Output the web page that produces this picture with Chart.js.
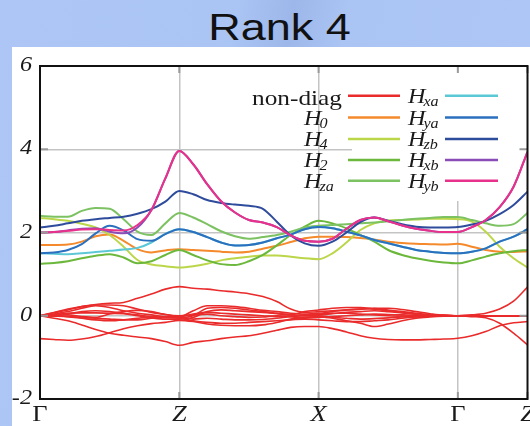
<!DOCTYPE html>
<html>
<head>
<meta charset="utf-8">
<title>Rank 4</title>
<script src="https://cdn.jsdelivr.net/npm/chart.js@4/dist/chart.umd.min.js"></script>
<style>
  html, body { margin: 0; padding: 0; }
  body {
    width: 530px; height: 426px; overflow: hidden; position: relative;
    background: linear-gradient(100deg, #adc6f6 0px, #aac4f4 235px, #9db7ea 290px, #aac4f4 345px, #adc6f6 530px);
  }
  #title {
    position: absolute; left: 0; top: 10px; width: 559px; text-align: center;
    font-family: "Liberation Sans", Arial, sans-serif; font-size: 36px; line-height: 36px;
    color: #111; transform: scaleX(1.25);
  }
  #panel { position: absolute; left: 12px; top: 47px; width: 518px; height: 379px; background: #fff; }
  canvas { display: block; }
</style>
</head>
<body>
<div id="title">Rank 4</div>
<div id="panel"><canvas id="bands" width="518" height="379"></canvas></div>
<script>
// positions along the k-path: Γ=0, Z=1, X=2, Γ=3, Z=3.5
const kPath = [0.0, 0.1, 0.2, 0.3, 0.4, 0.5, 0.6, 0.7, 0.8, 0.9, 1.0, 1.1, 1.2, 1.3, 1.4, 1.5, 1.6, 1.7,
               1.8, 1.9, 2.0, 2.1, 2.2, 2.3, 2.4, 2.5, 2.6, 2.7, 2.8, 2.9, 3.0, 3.1, 3.2, 3.3, 3.4, 3.5];
const kTickPos = [0, 1, 2, 3, 3.5];
const kTickLabels = ["Γ", "Z", "X", "Γ", "Z"];
const energyTicks = [6, 4, 2, 0, -2];

const H0  = [1.70, 1.70, 1.71, 1.78, 1.91, 1.95, 1.80, 1.60, 1.52, 1.57, 1.60, 1.58, 1.56, 1.54, 1.52, 1.54, 1.61, 1.68,
             1.77, 1.86, 1.90, 1.90, 1.89, 1.87, 1.83, 1.78, 1.75, 1.73, 1.72, 1.71, 1.73, 1.66, 1.58, 1.54, 1.53, 1.55];
const H4  = [2.35, 2.32, 2.28, 2.21, 2.12, 1.94, 1.66, 1.34, 1.23, 1.19, 1.16, 1.19, 1.25, 1.33, 1.38, 1.42, 1.45, 1.45,
             1.42, 1.38, 1.36, 1.50, 1.76, 2.06, 2.22, 2.29, 2.30, 2.31, 2.33, 2.33, 2.32, 2.26, 2.02, 1.66, 1.38, 1.16];
const H2  = [1.25, 1.27, 1.31, 1.38, 1.44, 1.48, 1.40, 1.26, 1.31, 1.46, 1.58, 1.46, 1.33, 1.24, 1.22, 1.31, 1.46, 1.69,
             1.94, 2.14, 2.28, 2.22, 2.10, 1.94, 1.78, 1.58, 1.46, 1.38, 1.32, 1.28, 1.26, 1.33, 1.42, 1.50, 1.55, 1.58];
const Hza = [2.40, 2.38, 2.38, 2.52, 2.59, 2.57, 2.32, 2.02, 1.94, 2.22, 2.47, 2.36, 2.20, 2.03, 1.91, 1.85, 1.89, 1.94,
             2.02, 2.12, 2.16, 2.18, 2.20, 2.22, 2.24, 2.27, 2.30, 2.33, 2.35, 2.37, 2.37, 2.30, 2.22, 2.16, 2.20, 2.47];
const Hxa = [1.50, 1.49, 1.48, 1.50, 1.53, 1.56, 1.59, 1.63, 1.76, 1.97, 2.08, 2.01, 1.89, 1.76, 1.69, 1.70, 1.76, 1.86,
             1.95, 2.08, 2.13, 2.10, 2.02, 1.93, 1.82, 1.74, 1.66, 1.58, 1.54, 1.51, 1.50, 1.54, 1.62, 1.78, 1.90, 2.08];
const Hya = [1.50, 1.52, 1.58, 1.72, 1.98, 2.16, 2.05, 1.84, 1.80, 1.96, 2.08, 2.01, 1.89, 1.76, 1.69, 1.70, 1.76, 1.86,
             1.95, 2.08, 2.13, 2.10, 2.02, 1.93, 1.82, 1.74, 1.66, 1.58, 1.54, 1.51, 1.50, 1.54, 1.62, 1.78, 1.90, 2.08];
const Hzb = [2.12, 2.16, 2.22, 2.28, 2.32, 2.35, 2.38, 2.45, 2.56, 2.74, 3.00, 2.92, 2.78, 2.71, 2.67, 2.64, 2.57, 2.26,
             1.93, 1.74, 1.68, 1.78, 2.00, 2.25, 2.36, 2.28, 2.20, 2.14, 2.12, 2.12, 2.13, 2.19, 2.28, 2.44, 2.66, 2.98];
const Hxb = [2.00, 2.01, 2.05, 2.09, 2.10, 2.02, 1.98, 2.12, 2.54, 3.30, 3.96, 3.64, 3.16, 2.75, 2.48, 2.30, 2.24, 2.13,
             1.93, 1.80, 1.78, 1.85, 2.09, 2.30, 2.36, 2.27, 2.17, 2.09, 2.04, 2.01, 2.01, 2.13, 2.30, 2.61, 3.10, 3.94];
const Hyb = [2.00, 2.01, 2.04, 2.07, 2.08, 2.06, 2.05, 2.18, 2.54, 3.30, 3.96, 3.64, 3.16, 2.75, 2.48, 2.30, 2.24, 2.13,
             1.93, 1.80, 1.78, 1.85, 2.09, 2.30, 2.36, 2.27, 2.17, 2.09, 2.04, 2.01, 2.01, 2.13, 2.30, 2.61, 3.10, 3.94];

// off-diagonal bands, all drawn in red
const nonDiag = [
  [0, 0.07, 0.14, 0.22, 0.27, 0.30, 0.32, 0.42, 0.52, 0.64, 0.70, 0.66, 0.64, 0.60, 0.57, 0.53, 0.46, 0.34,
   0.16, 0.08, 0.10, 0.12, 0.14, 0.16, 0.18, 0.18, 0.15, 0.10, 0.05, 0.01, 0, 0.02, 0.06, 0.16, 0.35, 0.69],
  [0, 0.08, 0.16, 0.22, 0.26, 0.26, 0.24, 0.16, 0.08, 0.03, -0.02, 0.12, 0.24, 0.24, 0.22, 0.18, 0.13, 0.10,
   0.06, 0.04, 0.06, 0.10, 0.14, 0.16, 0.17, 0.14, 0.10, 0.06, 0.03, 0.01, 0, 0, 0, 0, 0, 0],
  [0, 0.03, 0.06, 0.07, 0.07, 0.06, 0.05, 0.00, -0.05, -0.08, -0.08, -0.04, 0.10, 0.14, 0.12, 0.10, 0.08, 0.05,
   0.02, 0.00, 0.02, 0.05, 0.08, 0.10, 0.12, 0.10, 0.07, 0.04, 0.02, 0.01, 0, 0, 0, 0, 0, 0],
  [0, 0.01, 0.02, -0.02, -0.04, 0.04, 0.10, 0.13, 0.10, 0.03, 0.00, 0.02, 0.04, 0.00, -0.02, -0.04, -0.03, 0.00,
   -0.02, -0.06, -0.04, -0.02, 0.00, 0.02, 0.04, 0.03, 0.02, 0.01, 0.00, 0, 0, 0, 0, 0, 0, 0],
  [0, -0.01, -0.02, -0.04, -0.06, -0.08, -0.10, -0.10, -0.06, -0.03, -0.02, -0.08, -0.06, -0.08, -0.10, -0.10, -0.09, -0.06,
   -0.02, 0.00, 0.00, -0.04, -0.06, -0.08, -0.07, -0.05, -0.03, -0.02, -0.01, 0, 0, 0, 0, 0, 0, 0],
  [0, -0.06, -0.12, -0.22, -0.33, -0.42, -0.47, -0.51, -0.55, -0.62, -0.71, -0.64, -0.60, -0.55, -0.51, -0.48, -0.42, -0.35,
   -0.28, -0.26, -0.26, -0.31, -0.39, -0.48, -0.54, -0.57, -0.58, -0.58, -0.57, -0.56, -0.54, -0.48, -0.38, -0.24, -0.17, -0.14],
  [-0.55, -0.57, -0.59, -0.56, -0.50, -0.41, -0.31, -0.24, -0.19, -0.16, -0.11, -0.14, -0.20, -0.23, -0.24, -0.24, -0.22, -0.16,
   -0.08, -0.04, -0.02, -0.06, -0.12, -0.18, -0.26, -0.20, -0.12, -0.06, -0.03, -0.01, 0, -0.02, -0.05, -0.18, -0.42, -0.70],
  [0, 0.04, 0.10, 0.18, 0.24, 0.20, 0.12, 0.06, 0.02, -0.02, -0.04, 0.00, 0.18, 0.20, 0.18, 0.14, 0.10, 0.06,
   0.03, 0.10, 0.14, 0.18, 0.20, 0.20, 0.16, 0.12, 0.08, 0.04, 0.02, 0.01, 0, 0, 0, 0, 0, 0],
  [0, 0.00, -0.02, -0.06, -0.10, -0.12, -0.10, -0.06, -0.04, -0.04, -0.06, -0.12, -0.16, -0.18, -0.18, -0.16, -0.14, -0.12,
   -0.10, -0.08, -0.10, -0.12, -0.14, -0.14, -0.12, -0.10, -0.06, -0.03, -0.01, 0, 0, 0, 0, 0, 0, 0],
  [0, 0.02, 0.05, 0.10, 0.12, 0.10, 0.06, 0.02, -0.02, -0.04, -0.02, 0.04, 0.08, 0.06, 0.04, 0.02, 0.00, -0.02,
   -0.01, 0.02, 0.04, 0.06, 0.06, 0.04, 0.02, 0.00, -0.01, -0.01, 0, 0, 0, 0, 0, 0, 0, 0],
];

const colours = {
  nonDiag: "#ea2b2b", H0: "#f58a2c", H4: "#bcd64a", H2: "#6cb83c", Hza: "#7cc262",
  Hxa: "#5cc8d6", Hya: "#2a70bf", Hzb: "#2f4c9c", Hxb: "#8a4cb6", Hyb: "#e8318a",
};

const SERIF = '"Liberation Serif", "Times New Roman", serif';
const TICK_STRETCH = 1.1;
const LEGEND_STRETCH = 1.15;

function curve(values, colour, width) {
  return {
    data: kPath.map((k, i) => ({x: k, y: values[i]})),
    borderColor: colour,
    borderWidth: width,
    pointRadius: 0,
    cubicInterpolationMode: "monotone",
    fill: false,
  };
}

const datasets = [];
nonDiag.forEach(v => datasets.push(curve(v, colours.nonDiag, 1.6)));
datasets.push(curve(H0, colours.H0, 2));
datasets.push(curve(H4, colours.H4, 2));
datasets.push(curve(H2, colours.H2, 2));
datasets.push(curve(Hza, colours.Hza, 2));
datasets.push(curve(Hxa, colours.Hxa, 2));
datasets.push(curve(Hya, colours.Hya, 2));
datasets.push(curve(Hzb, colours.Hzb, 2));
datasets.push(curve(Hxb, colours.Hxb, 2));
datasets.push(curve(Hyb, colours.Hyb, 2));
// later entries on top
datasets.forEach((d, i) => { d.order = datasets.length - i; });

const legendLeft = [
  {text: "non-diag", colour: colours.nonDiag},
  {main: "H", sub: "0", colour: colours.H0},
  {main: "H", sub: "4", colour: colours.H4},
  {main: "H", sub: "2", colour: colours.H2},
  {main: "H", sub: "za", colour: colours.Hza},
];
const legendRight = [
  {main: "H", sub: "xa", colour: colours.Hxa},
  {main: "H", sub: "ya", colour: colours.Hya},
  {main: "H", sub: "zb", colour: colours.Hzb},
  {main: "H", sub: "xb", colour: colours.Hxb},
  {main: "H", sub: "yb", colour: colours.Hyb},
];

function stretchedText(ctx, text, x, y, align, stretch) {
  ctx.save();
  ctx.translate(x, y);
  ctx.scale(stretch, 1);
  ctx.textAlign = align;
  ctx.fillText(text, 0, 0);
  ctx.restore();
}

function drawEntry(ctx, entry, labelX, lineX0, lineX1, rowY) {
  ctx.fillStyle = "#1a1a1a";
  ctx.textBaseline = "alphabetic";
  if (entry.text) {
    ctx.font = "22px " + SERIF;
    stretchedText(ctx, entry.text, labelX.right, rowY + 9, "right", LEGEND_STRETCH);
  } else {
    ctx.font = "italic 21px " + SERIF;
    const w = ctx.measureText(entry.main).width * LEGEND_STRETCH;
    stretchedText(ctx, entry.main, labelX.left, rowY + 7, "left", LEGEND_STRETCH);
    ctx.font = "italic 14px " + SERIF;
    stretchedText(ctx, entry.sub, labelX.left + w - 2, rowY + 10, "left", LEGEND_STRETCH);
  }
  ctx.strokeStyle = entry.colour;
  ctx.lineWidth = 2.5;
  ctx.beginPath();
  ctx.moveTo(lineX0, rowY);
  ctx.lineTo(lineX1, rowY);
  ctx.stroke();
}

const decorations = {
  id: "decorations",
  beforeDatasetsDraw(chart) {
    const ctx = chart.ctx;
    ctx.save();
    // opaque key box
    ctx.fillStyle = "#ffffff";
    ctx.fillRect(340, 24, 176, 130);
    const rows = [48.7, 70.5, 92, 113, 133.7];
    legendLeft.forEach((e, i) => drawEntry(ctx, e, {left: 292, right: 330}, 336, 388, rows[i]));
    legendRight.forEach((e, i) => drawEntry(ctx, e, {left: 396, right: 431}, 433, 486, rows[i]));
    ctx.restore();
  },
  afterDraw(chart) {
    const ctx = chart.ctx;
    const {left, right, top, bottom} = chart.chartArea;
    const xs = chart.scales.x, ys = chart.scales.y;
    ctx.save();
    // inward tick marks
    ctx.strokeStyle = "#9a9a9a";
    ctx.lineWidth = 2;
    ctx.beginPath();
    kTickPos.forEach(v => {
      const px = xs.getPixelForValue(v);
      ctx.moveTo(px, top); ctx.lineTo(px, top + 7);
      ctx.moveTo(px, bottom); ctx.lineTo(px, bottom - 7);
    });
    energyTicks.forEach(v => {
      const py = ys.getPixelForValue(v);
      ctx.moveTo(left, py); ctx.lineTo(left + 8, py);
      ctx.moveTo(right, py); ctx.lineTo(right - 8, py);
    });
    ctx.stroke();
    // frame
    ctx.strokeStyle = "#111";
    ctx.lineWidth = 2;
    ctx.strokeRect(left, top, right - left, bottom - top);
    // tick labels
    ctx.fillStyle = "#1a1a1a";
    ctx.textBaseline = "alphabetic";
    ctx.font = "italic 22px " + SERIF;
    energyTicks.forEach(v => {
      stretchedText(ctx, String(v), left - 8, ys.getPixelForValue(v) + 5, "right", TICK_STRETCH);
    });
    kTickLabels.forEach((lab, i) => {
      ctx.font = (lab === "Γ" ? "" : "italic ") + "24px " + SERIF;
      stretchedText(ctx, lab, xs.getPixelForValue(kTickPos[i]), bottom + 22, "center", TICK_STRETCH);
    });
    ctx.restore();
  },
};

function gridColour(c, ends) {
  if (!c.tick || ends.includes(c.tick.value)) return "rgba(0,0,0,0)";
  return "#c4c4c4";
}

new Chart(document.getElementById("bands"), {
  type: "line",
  data: {datasets: datasets},
  options: {
    responsive: false,
    animation: false,
    devicePixelRatio: 1,
    layout: {padding: {left: 28, top: 19, right: 2.5, bottom: 27}},
    plugins: {legend: {display: false}, tooltip: {enabled: false}},
    scales: {
      x: {
        type: "linear",
        min: 0,
        max: 3.5,
        afterBuildTicks: s => { s.ticks = kTickPos.map(v => ({value: v})); },
        afterFit: s => { s.height = 0; s.paddingLeft = 0; s.paddingRight = 0; },
        ticks: {display: false},
        border: {display: false},
        grid: {color: c => gridColour(c, [0, 3.5]), lineWidth: 1.5, drawTicks: false},
      },
      y: {
        min: -2,
        max: 6,
        afterBuildTicks: s => { s.ticks = energyTicks.map(v => ({value: v})); },
        afterFit: s => { s.width = 0; s.paddingTop = 0; s.paddingBottom = 0; },
        ticks: {display: false},
        border: {display: false},
        grid: {color: c => gridColour(c, [6, -2]), lineWidth: 1.5, drawTicks: false},
      },
    },
  },
  plugins: [decorations],
});
</script>
</body>
</html>
